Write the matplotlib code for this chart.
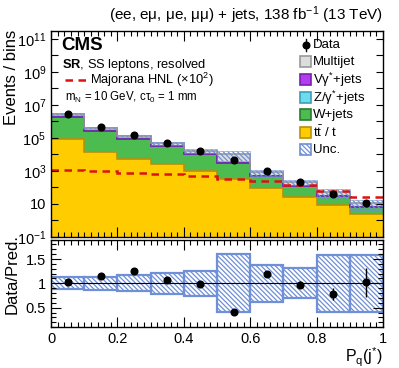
import numpy as np
import matplotlib
matplotlib.use('Agg')
import matplotlib.pyplot as plt
from matplotlib.patches import Rectangle
from matplotlib.ticker import FixedLocator, MultipleLocator, NullFormatter, FixedFormatter

plt.rcParams['font.family'] = ['Liberation Sans', 'DejaVu Sans']
plt.rcParams['mathtext.fontset'] = 'custom'
plt.rcParams['mathtext.rm'] = 'Liberation Sans'
plt.rcParams['mathtext.it'] = 'Liberation Sans:italic'
plt.rcParams['mathtext.bf'] = 'Liberation Sans:bold'
plt.rcParams['hatch.linewidth'] = 0.9

# ---------------- data ----------------
bin_edges = [0.0, 0.1, 0.2, 0.3, 0.4, 0.5, 0.6, 0.7, 0.8, 0.9, 1.0]
ttbar    = [8.0e4, 1.4e4, 5.6e3, 2.45e3, 1.0e3, 316, 98, 25, 8.3, 2.4]
wjets    = [1.77e6, 2.45e5, 8.06e4, 2.94e4, 8.95e3, 2.58e3, 390, 91.5, 21.7, 4.56]
zgamma   = [9.0e3, 1.2e3, 4.0e2, 1.5e2, 45, 13, 2, 0.5, 0.1, 0.03]
vgamma   = [2.0e3, 3.0e2, 1.0e2, 40, 12, 4, 0.6, 0.15, 0.03, 0.01]
multijet = [8.1e5, 1.3e5, 4.0e4, 1.66e4, 6.2e3, 7.3e3, 350, 99, 20, 3.8]
data     = [2750000, 450000, 160000, 52000, 16000, 4300, 1000, 210, 39, 11]
signal_x100 = [1200, 955, 724, 630, 479, 347, 240, 132, 65, 26]
unc_up   = [0.125, 0.14, 0.17, 0.21, 0.26, 0.60, 0.38, 0.31, 0.575, 0.59]
unc_dn   = [0.12, 0.14, 0.15, 0.21, 0.26, 0.59, 0.38, 0.31, 0.58, 0.59]

ytick_vals = [1e-1, 1e1, 1e3, 1e5, 1e7, 1e9, 1e11]
ytick_labels = [r'$10^{-1}$', '10', r'$10^{3}$', r'$10^{5}$', r'$10^{7}$', r'$10^{9}$', r'$10^{11}$']
xtick_vals = [0, 0.2, 0.4, 0.6, 0.8, 1.0]
xtick_labels = ['0', '0.2', '0.4', '0.6', '0.8', '1']

# ---------------- styles ----------------
c_tt, e_tt = '#ffcc00', '#b8900a'
c_w, e_w = '#4cbb50', '#2b7a30'
c_z, e_z = '#6edcf0', '#3a9fb5'
c_v, e_v = '#b23cf0', '#7a1fb0'
c_mj, e_mj = '#dddddd', '#999999'
c_unc = '#6f8fd6'
c_sig = '#dd1111'
HATCH = '\\\\\\\\\\\\\\'

edges = np.array(bin_edges)
centers = 0.5 * (edges[:-1] + edges[1:])
widths = np.diff(edges)
layers = [(np.array(ttbar), c_tt, e_tt), (np.array(wjets), c_w, e_w),
          (np.array(zgamma), c_z, e_z), (np.array(vgamma), c_v, e_v),
          (np.array(multijet), c_mj, e_mj)]
total = sum(l[0] for l in layers)
data_a = np.array(data, dtype=float)
up = np.array(unc_up); dn = np.array(unc_dn)

fig = plt.figure(figsize=(3.99, 3.68), dpi=100)
ax = fig.add_axes([0.128, 0.356, 0.832, 0.560])
ax2 = fig.add_axes([0.128, 0.111, 0.832, 0.238])

# stacked histograms
base = np.full(len(centers), 1e-3)
for vals, fc, ec in layers:
    top = base + vals
    ax.stairs(top, edges, baseline=base, fill=True, color=fc, lw=0)
    base = top
base = np.full(len(centers), 1e-3)
for vals, fc, ec in layers:
    top = base + vals
    ax.stairs(top, edges, baseline=None, color=ec, lw=1.2)
    base = top

# uncertainty band
ax.bar(centers, total * (up + dn), bottom=total * (1 - dn), width=widths,
       fill=False, hatch=HATCH, edgecolor=c_unc, linewidth=0.4)

# signal
ax.stairs(np.array(signal_x100), edges, baseline=None, color=c_sig, lw=1.8,
          linestyle=(0, (3, 2.2)))

# data
ax.errorbar(centers, data_a, yerr=np.sqrt(data_a), fmt='o', color='k', ms=4.8,
            elinewidth=1, capsize=0)

ax.set_yscale('log')
ax.set_xlim(0, 1)
ax.set_ylim(1e-1, 3e11)
ax.yaxis.set_major_locator(FixedLocator([10.0 ** k for k in range(-1, 12)]))
ax.yaxis.set_major_formatter(FixedFormatter(
    [ytick_labels[ytick_vals.index(10.0 ** k)] if (10.0 ** k) in ytick_vals else '' for k in range(-1, 12)]))
ax.yaxis.set_minor_locator(FixedLocator([]))
ax.xaxis.set_major_locator(MultipleLocator(0.2))
ax.xaxis.set_minor_locator(MultipleLocator(0.02))
ax.xaxis.set_major_formatter(NullFormatter())
for a in (ax, ax2):
    a.tick_params(which='both', direction='in', top=True, right=True, labelsize=10.5, width=0.8)
    a.tick_params(which='major', length=7)
    a.tick_params(which='minor', length=3.5)
    for s in a.spines.values():
        s.set_linewidth(1.0)
ax.tick_params(axis='y', which='major', length=5)

# ratio panel
ratio = data_a / total
rerr = np.sqrt(data_a) / total
ax2.bar(centers, up + dn, bottom=1 - dn, width=widths, fill=False,
        hatch=HATCH, edgecolor=c_unc, linewidth=1.6)
ax2.axhline(1, color='k', lw=0.8)
ax2.errorbar(centers, ratio, yerr=rerr, fmt='o', color='k', ms=4.8,
             elinewidth=1, capsize=0)
ax2.set_xlim(0, 1)
ax2.set_ylim(0.1, 1.9)
ax2.set_yticks([0.5, 1.0, 1.5])
ax2.set_yticklabels(['0.5', '1', '1.5'])
ax2.yaxis.set_minor_locator(MultipleLocator(0.1))
ax2.set_xticks(xtick_vals)
ax2.set_xticklabels(xtick_labels)
ax2.xaxis.set_minor_locator(MultipleLocator(0.02))

# texts
fig.text(383 / 399, 1 - 15 / 368, '(ee, eμ, μe, μμ) + jets, 138 fb$^{-1}$ (13 TeV)',
         ha='right', va='center', fontsize=11)
fig.text(12 / 399, 1 - 30 / 368, 'Events / bins', rotation=90, ha='center', va='top', fontsize=12)
fig.text(12 / 399, 1 - 234 / 368, 'Data/Pred.', rotation=90, ha='center', va='top', fontsize=12)
fig.text(383 / 399, 1 - 346 / 368, r'P$_{\mathrm{q}}$(j$^{*}$)', ha='right', va='top', fontsize=11.5)

ax.text(0.03, 0.908, 'CMS', transform=ax.transAxes, fontsize=13.5, fontweight='bold',
        ha='left', va='baseline')
ax.text(0.033, 0.82, r'$\mathbf{SR}$, SS leptons, resolved', transform=ax.transAxes,
        fontsize=9.3, ha='left', va='baseline')
ax.plot([0.042, 0.111], [0.760, 0.760], transform=ax.transAxes, color=c_sig, lw=1.8,
        linestyle=(0, (3, 2.2)))
ax.text(0.116, 0.760, 'Majorana HNL (×10$^{2}$)', transform=ax.transAxes,
        fontsize=9.3, ha='left', va='center')
ax.text(0.042, 0.66, r'm$_{\mathrm{N}}$ = 10 GeV, cτ$_{0}$ = 1 mm', transform=ax.transAxes,
        fontsize=8.3, ha='left', va='baseline')

# legend (right)
leg_items = [('Multijet', c_mj, e_mj, None), ('Vγ$^{*}$+jets', c_v, e_v, None),
             ('Z/γ$^{*}$+jets', c_z, e_z, None), ('W+jets', c_w, e_w, None),
             (r't$\bar{\mathrm{t}}$ / t', c_tt, e_tt, None), ('Unc.', 'white', c_unc, 'hatch')]
ys = [62, 80, 97.5, 115, 132.5, 150]
bx0 = (300 - 51) / 332
bw = 11 / 332
bh = 11 / 206
for (lab, fc, ec, h), y in zip(leg_items, ys):
    fy = (237 - y) / 206
    if h:
        r = Rectangle((bx0, fy - bh / 2), bw, bh, transform=ax.transAxes, facecolor='white',
                      edgecolor=ec, hatch=HATCH, lw=1.2)
    else:
        r = Rectangle((bx0, fy - bh / 2), bw, bh, transform=ax.transAxes, facecolor=fc,
                      edgecolor=ec, lw=1.2)
    ax.add_patch(r)
    ax.text((313 - 51) / 332, fy, lab, transform=ax.transAxes, fontsize=9.5,
            ha='left', va='center')
fy = (237 - 45) / 206
ax.plot([(305.5 - 51) / 332], [fy], 'o', color='k', ms=4.8, transform=ax.transAxes)
ax.plot([(305.5 - 51) / 332] * 2, [fy - 0.03, fy + 0.03], color='k', lw=1, transform=ax.transAxes)
ax.text((313 - 51) / 332, fy, 'Data', transform=ax.transAxes, fontsize=9.5, ha='left', va='center')

fig.savefig('out.png', dpi=100)
